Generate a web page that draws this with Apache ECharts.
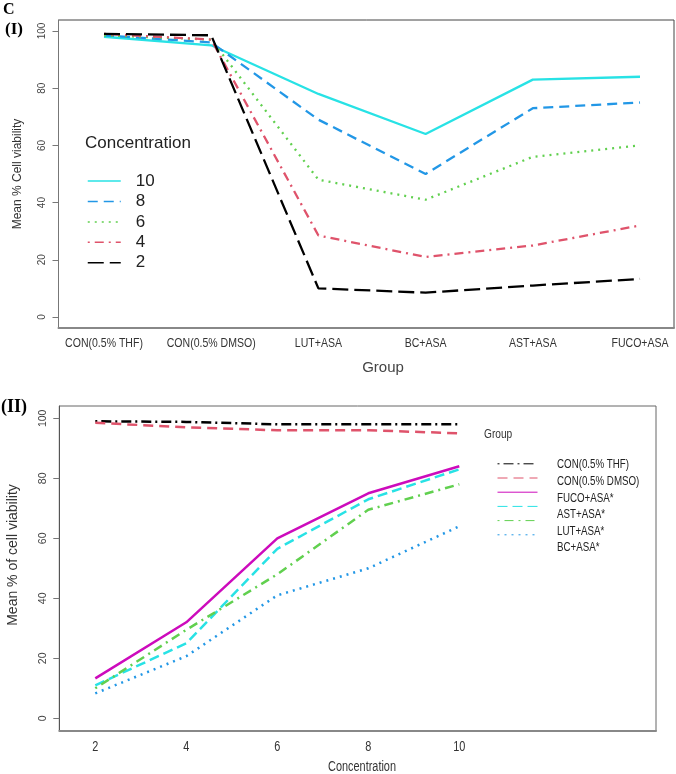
<!DOCTYPE html>
<html><head><meta charset="utf-8">
<script src="https://cdn.jsdelivr.net/npm/echarts@6/dist/echarts.min.js"></script>
<style>html,body{margin:0;padding:0;background:#fff}#c{width:676px;height:774px}</style>
</head><body><div id="c"></div>
<script>
// Panel I data
const groups = ['CON(0.5% THF)','CON(0.5% DMSO)','LUT+ASA','BC+ASA','AST+ASA','FUCO+ASA'];
const conc10 = [98, 95, 78, 64, 83, 84];
const conc8  = [98.5, 96, 69, 50, 73, 75];
const conc6  = [98.5, 97, 48, 41, 56, 60];
const conc4  = [99, 97, 28.5, 21, 25, 32];
const conc2  = [99, 98.5, 10, 8.5, 11, 13.3];
// Panel II data
const concentrations = [2, 4, 6, 8, 10];
const conTHF  = [99, 98.8, 98, 98, 98];
const conDMSO = [98.5, 97, 96, 96, 95];
const fucoASA = [13.3, 32, 60, 75, 84];
const astASA  = [11, 25, 56.5, 73, 83];
const lutASA  = [10, 29.5, 48, 69.5, 78];
const bcASA   = [8.3, 20.7, 41, 50, 64];
const groupNames2 = ['CON(0.5% THF)','CON(0.5% DMSO)','FUCO+ASA*','AST+ASA*','LUT+ASA*','BC+ASA*'];
const yTicks = [0, 20, 40, 60, 80, 100];

const SANS = "'Liberation Sans',Arial,sans-serif";
const NFONT = (s)=> s + "px 'Liberation Sans',Arial,sans-serif";
const NARROW_SCALE = 0.78;

function pairs1(arr){ return arr.map((v,i)=>[i+1, v]); }
function pairs2(arr){ return arr.map((v,i)=>[concentrations[i], v]); }

function ser(name, data, color, dash, width, xi){
  return {
    type:'line', name:name, data:data, xAxisIndex:xi, yAxisIndex:xi,
    symbol:'none', smooth:false, animation:false,
    lineStyle:{color:color, width:width, type: dash || 'solid', cap:'butt'},
    itemStyle:{color:color}
  };
}
function ntext(id, txt, x, y, size, align, color){
  return {type:'text', id:id, x:x, y:y, scaleX:NARROW_SCALE, silent:true,
    style:{text:txt, font:NFONT(size), fill:color||'#333', align:align||'center', verticalAlign:'middle'}};
}

const chart = echarts.init(document.getElementById('c'), null, {renderer:'canvas'});
const option = {
  animation:false,
  grid:[
    {left:58.5, right:2, top:20, height:308, show:true, borderColor:'#444', borderWidth:1},
    {left:59.3, right:20, top:406, height:325, show:true, borderColor:'#666', borderWidth:1}
  ],
  xAxis:[
    {type:'value', gridIndex:0, min:0.5756, max:6.317,
     axisLine:{show:true, onZero:false, lineStyle:{color:'#888', width:2}},
     axisTick:{show:false}, splitLine:{show:false}, axisLabel:{show:false}},
    {type:'value', gridIndex:1, min:1.209, max:14.323,
     axisLine:{show:true, onZero:false, lineStyle:{color:'#888', width:2}},
     axisTick:{show:false}, splitLine:{show:false}, axisLabel:{show:false}}
  ],
  yAxis:[
    {type:'value', gridIndex:0, min:-3.85, max:103.85,
     axisLine:{show:true, onZero:false, lineStyle:{color:'#777', width:1}},
     axisTick:{show:true, customValues:yTicks, length:6, lineStyle:{color:'#777'}},
     splitLine:{show:false},
     axisLabel:{customValues:yTicks, rotate:90, margin:11, fontFamily:SANS, fontSize:10, color:'#444'}},
    {type:'value', gridIndex:1, min:-4.23, max:104.1,
     axisLine:{show:true, onZero:false, lineStyle:{color:'#555', width:1}},
     axisTick:{show:true, customValues:yTicks, length:6, lineStyle:{color:'#777'}},
     splitLine:{show:false},
     axisLabel:{customValues:yTicks, rotate:90, margin:11, fontFamily:SANS, fontSize:10.5, color:'#444'}}
  ],
  legend:[
    {orient:'vertical', left:87, top:172.6, padding:0, itemWidth:33, itemHeight:14, itemGap:3.4,
     data:['10','8','6','4','2'], selectedMode:false,
     lineStyle:{width:1.5}, itemStyle:{opacity:0},
     textStyle:{fontFamily:SANS, fontSize:17, color:'#222', padding:[0,0,0,10]}},
    {orient:'vertical', left:497, top:459, padding:0, itemWidth:40, itemHeight:12, itemGap:4.6,
     data:groupNames2, selectedMode:false, formatter:()=>'',
     lineStyle:{width:1}, itemStyle:{opacity:0},
     textStyle:{fontFamily:SANS, fontSize:12, lineHeight:12}}
  ],
  graphic:[
    {type:'text', id:'C', left:3, top:2, style:{text:'C', font:"bold 16px 'Liberation Serif',serif", fill:'#000'}},
    {type:'text', id:'p1', left:5, top:21, style:{text:'(I)', font:"bold 17px 'Liberation Serif',serif", fill:'#000'}},
    {type:'text', id:'p2', left:1, top:398, style:{text:'(II)', font:"bold 18px 'Liberation Serif',serif", fill:'#000'}},
    {type:'text', id:'yt1', x:18, y:174, rotation:Math.PI/2, style:{text:'Mean % Cell viability', font:"12px 'Liberation Sans',sans-serif", fill:'#333', align:'center', verticalAlign:'middle'}},
    {type:'text', id:'xt1', x:383, y:368, style:{text:'Group', font:"15px 'Liberation Sans',sans-serif", fill:'#444', align:'center', verticalAlign:'middle'}},
    {type:'text', id:'lt1', x:85, y:143, style:{text:'Concentration', font:"17px 'Liberation Sans',sans-serif", fill:'#222', align:'left', verticalAlign:'middle'}},
    {type:'text', id:'yt2', x:13, y:555, rotation:Math.PI/2, style:{text:'Mean % of cell viability', font:"14px 'Liberation Sans',sans-serif", fill:'#333', align:'center', verticalAlign:'middle'}},
    ntext('xt2', 'Concentration', 362, 767, 14),
    ntext('lt2', 'Group', 484, 434, 13, 'left')
  ],
  series:[
    ser('10', pairs1(conc10), '#28E2E5', 'solid', 2.3, 0),
    ser('8', pairs1(conc8), '#2297E6', [10,6], 2.3, 0),
    ser('6', pairs1(conc6), '#61D04F', [2,5], 2.3, 0),
    ser('4', pairs1(conc4), '#DF536B', [2,5,9,5], 2.3, 0),
    ser('2', pairs1(conc2), '#000000', [16,6], 2.3, 0),
    ser(groupNames2[0], pairs2(conTHF), '#000000', [2,4,10,4], 2.5, 1),
    ser(groupNames2[1], pairs2(conDMSO), '#DF536B', [10,6], 2.5, 1),
    ser(groupNames2[2], pairs2(fucoASA), '#CD0BBC', 'solid', 2.5, 1),
    ser(groupNames2[3], pairs2(astASA), '#28E2E5', [10,5], 2.5, 1),
    ser(groupNames2[4], pairs2(lutASA), '#61D04F', [2,5,9,5], 2.5, 1),
    ser(groupNames2[5], pairs2(bcASA), '#2297E6', [2,5], 2.5, 1)
  ]
};
chart.setOption(option);

// Narrow (R-style condensed) axis tick labels, positioned through the axes' own scales
const extra = [];
const base1 = chart.convertToPixel({yAxisIndex:0}, -3.85);
groups.forEach((g,i)=>{
  const x = chart.convertToPixel({xAxisIndex:0}, i+1);
  extra.push(ntext('xl1_'+i, g, x, base1 + 15, 13.5));
});
const base2 = chart.convertToPixel({yAxisIndex:1}, -4.23);
concentrations.forEach((c,i)=>{
  const x = chart.convertToPixel({xAxisIndex:1}, c);
  extra.push(ntext('xl2_'+i, String(c), x, base2 + 16, 14));
});
// legend II labels (narrow), aligned to legend rows
groupNames2.forEach((n,i)=>{
  extra.push(ntext('lg2_'+i, n, 557, 465 + i*16.6, 12.5, 'left', '#222'));
});
chart.setOption({graphic: extra});
</script></body></html>
